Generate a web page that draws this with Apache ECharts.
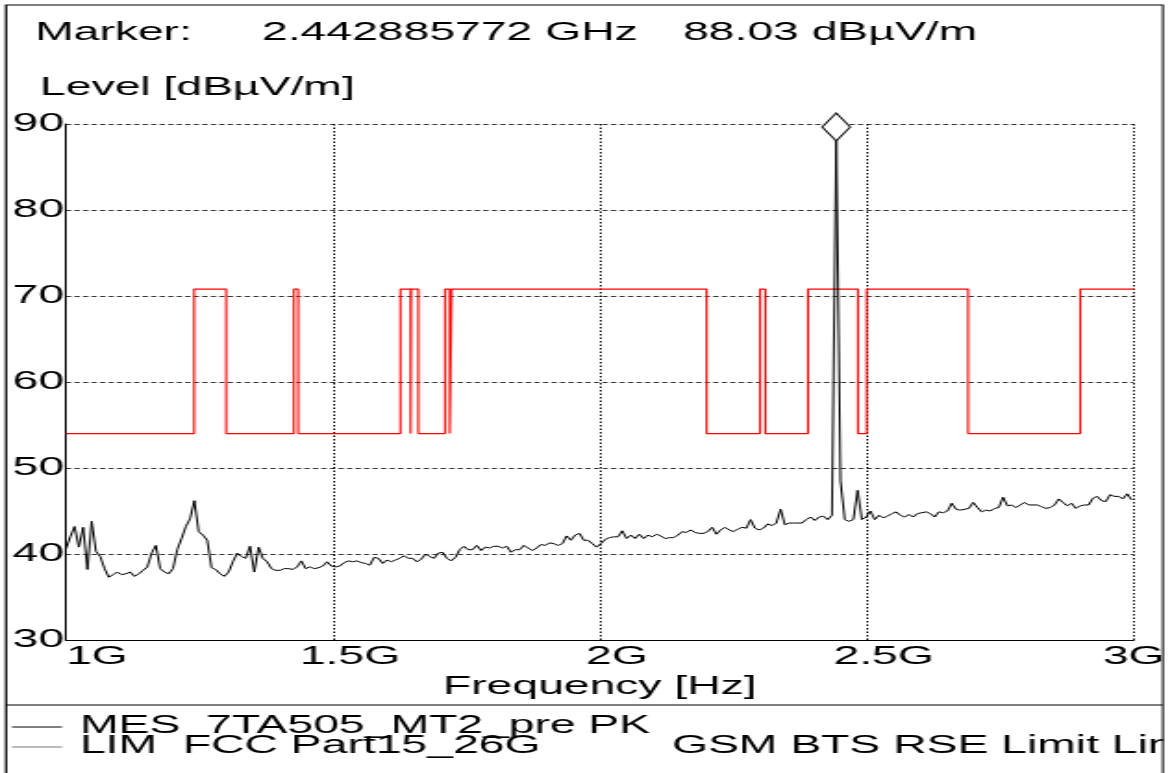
<!DOCTYPE html>
<html>
<head>
<meta charset="utf-8">
<script src="https://cdn.jsdelivr.net/npm/echarts@6/dist/echarts.min.js"></script>
<style>
html,body{margin:0;padding:0;background:#fff;overflow:hidden;}
#wrap{width:1170px;height:773px;overflow:hidden;position:relative;background:#fff;}
#chart{width:632px;height:773px;transform-origin:0 0;}
</style>
</head>
<body>
<div id="wrap"><div id="chart"></div></div>
<script>
// ---------------- data ----------------
// sweep grid of the trace (GHz): every 4th analyzer bin of a 999-point sweep
const START_GHZ = 1;
const STEP_GHZ = 0.008016032;
const levels = [
  40.6, 42.0, 43.2, 40.8, 43.1, 38.2, 43.8, 40.3, 39.7, 38.3,
  37.3, 37.6, 37.9, 37.6, 37.7, 37.9, 37.4, 37.7, 38.1, 38.5,
  40.1, 41.0, 38.3, 37.9, 37.7, 38.3, 40.5, 41.8, 43.2, 44.1,
  46.2, 42.6, 42.2, 41.6, 38.4, 38.2, 37.7, 37.4, 37.9, 39.1,
  40.1, 39.7, 39.5, 40.9, 37.9, 40.8, 39.5, 39.1, 38.3, 38.1,
  38.1, 38.3, 38.3, 38.2, 38.5, 39.2, 38.3, 38.5, 38.3, 38.4,
  38.6, 39.1, 38.6, 38.5, 38.6, 39.0, 39.2, 39.1, 39.2, 39.0,
  38.9, 38.7, 39.6, 39.5, 38.9, 39.3, 39.1, 39.3, 39.5, 39.8,
  39.5, 39.5, 39.1, 39.4, 40.0, 39.7, 39.5, 40.1, 40.2, 39.5,
  39.2, 39.6, 40.5, 40.9, 40.5, 40.5, 41.0, 40.4, 40.8, 40.7,
  40.9, 40.9, 40.7, 40.9, 40.2, 40.5, 40.5, 41.0, 40.7, 40.4,
  40.7, 41.1, 41.0, 41.3, 41.2, 41.0, 41.2, 42.1, 41.6, 42.2,
  42.4, 41.6, 41.6, 41.2, 40.8, 41.2, 41.7, 41.9, 42.0, 42.0,
  42.7, 41.8, 42.2, 41.8, 42.3, 41.8, 42.2, 42.0, 42.3, 42.1,
  41.8, 41.9, 41.9, 42.2, 42.6, 42.5, 42.8, 42.5, 42.4, 42.4,
  42.6, 43.1, 42.3, 42.8, 43.1, 42.8, 42.6, 42.9, 43.1, 43.0,
  44.0, 43.0, 42.8, 43.0, 43.5, 43.3, 43.6, 45.2, 43.4, 43.6,
  43.6, 43.6, 43.6, 44.0, 44.3, 43.9, 44.3, 44.4, 44.0, 44.5,
  88.03, 48.5, 44.0, 43.8, 44.0, 47.4, 44.0, 44.3, 45.0, 44.0,
  44.5, 44.2, 44.4, 44.7, 44.9, 44.5, 44.3, 44.6, 44.3, 44.7,
  44.8, 44.9, 44.7, 44.3, 44.9, 44.8, 45.0, 45.9, 45.2, 45.1,
  45.2, 45.3, 46.0, 45.4, 44.9, 45.1, 45.0, 45.3, 45.4, 46.6,
  45.6, 45.7, 45.4, 45.7, 46.0, 45.7, 45.7, 45.7, 45.5, 45.3,
  45.4, 45.7, 46.4, 46.0, 45.6, 45.9, 45.3, 45.6, 45.7, 45.7,
  46.5, 46.7, 46.2, 46.1, 46.9, 46.7, 46.7, 46.4, 47.0, 46.3
];
// limit line: band edges (GHz) and the level inside each band (dBµV/m)
const limitEdges = [1, 1.24, 1.3, 1.427, 1.435, 1.6265, 1.6455, 1.6465, 1.66, 1.71,
  1.7188, 1.7222, 2.2, 2.3, 2.31, 2.39, 2.4835, 2.5, 2.69, 2.9, 3];
const limitLevels = [54, 70.8, 54, 70.8, 54, 70.8, 54, 70.8, 54, 70.8,
  54, 70.8, 54, 70.8, 54, 70.8, 54, 70.8, 54, 70.8];
const MARKER_GHZ = 2.442885772;
const MARKER_DB = 88.03;
const xRange = [1, 3], xStep = 0.5;
const yRange = [30, 90], yStep = 10;
const headerLabel = 'Marker:';
const headerFreq = '2.442885772 GHz';
const headerLevel = '88.03 dBµV/m';
const yTitle = 'Level [dBµV/m]';
const xTitle = 'Frequency [Hz]';
const legendRow1 = 'MES  7TA505_MT2_pre PK';
const legendRow2a = 'LIM  FCC Part15_26G';
const legendRow2b = 'GSM BTS RSE Limit Lin';

// ---------------- layout ----------------
const REAL_W = 1170, NAT_W = 632;
const S = REAL_W / NAT_W;           // horizontal stretch of the whole picture
const X = r => r / S;                // real pixel -> drawing pixel
document.getElementById('chart').style.transform = 'scaleX(' + S + ')';
const FONT = '"Liberation Sans", Arial, sans-serif';
const FS = 25;

const traceData = levels.map((v, i) => [START_GHZ + i * STEP_GHZ, v]);
const limitData = [];
for (let k = 0; k < limitLevels.length; k++) {
  limitData.push([limitEdges[k], limitLevels[k]]);
  limitData.push([limitEdges[k + 1], limitLevels[k]]);
}

const chart = echarts.init(document.getElementById('chart'), null, {renderer: 'canvas'});
const txt = (x, y, t) => ({
  type: 'text', x: X(x), y: y, silent: true, z: 50,
  style: {text: t, fill: '#000', fontSize: FS, fontFamily: FONT, align: 'left', verticalAlign: 'middle'}
});
const labelStyle = {color: '#000', fontSize: FS, fontFamily: FONT};
chart.setOption({
  animation: false,
  backgroundColor: '#fff',
  grid: {left: X(66), right: NAT_W - X(1143), top: 124, bottom: 773 - 640, containLabel: false},
  xAxis: {
    type: 'value', min: xRange[0], max: xRange[1], interval: xStep,
    axisLine: {show: true, lineStyle: {color: '#000', width: 1}},
    axisTick: {show: false},
    axisLabel: {
      formatter: v => {
        const t = v + 'G';
        return (v === xRange[0] || v === xRange[1]) ? '{a|' + t + '}' : '{b|' + t + '}';
      },
      rich: {
        a: Object.assign({}, labelStyle),
        b: Object.assign({padding: [0, 0, 0, X(34)]}, labelStyle)
      },
      color: '#000', fontSize: FS, fontFamily: FONT, margin: 5,
      alignMinLabel: 'left', alignMaxLabel: 'center'
    },
    splitLine: {show: true, lineStyle: {color: '#000', width: 1, type: [1.5, 2]}},
    name: xTitle, nameLocation: 'middle', nameGap: 32,
    nameTextStyle: {color: '#000', fontSize: FS, fontFamily: FONT}
  },
  yAxis: {
    type: 'value', min: yRange[0], max: yRange[1], interval: yStep,
    axisLine: {show: true, lineStyle: {color: '#000', width: 1}},
    axisTick: {show: false},
    axisLabel: {color: '#000', fontSize: FS, fontFamily: FONT, margin: 1},
    splitLine: {show: true, lineStyle: {color: '#333', width: 1, type: [2.8, 1.8]}}
  },
  series: [
    {
      name: 'LIM', type: 'line', data: limitData, symbol: 'none', z: 2,
      lineStyle: {color: '#ff0000', width: 1.1}, silent: true
    },
    {
      name: 'MES', type: 'line', data: traceData, symbol: 'none', z: 3,
      lineStyle: {color: '#000', width: 1}, silent: true,
      markPoint: {
        symbol: 'diamond', symbolSize: [X(28), 28], symbolOffset: [0, -14],
        itemStyle: {color: '#fff', borderColor: '#000', borderWidth: 1.1},
        label: {show: false},
        data: [{coord: [MARKER_GHZ, MARKER_DB]}]
      }
    }
  ],
  graphic: [
    {type: 'rect', silent: true, z: 40, shape: {x: X(6), y: 5, width: X(1163) - X(6), height: 820},
      style: {fill: 'none', stroke: '#000', lineWidth: 1.2}},
    {type: 'line', silent: true, z: 40, shape: {x1: X(6), y1: 705, x2: X(1163), y2: 705},
      style: {stroke: '#000', lineWidth: 1.2}},
    txt(35, 33, headerLabel),
    txt(262, 33, headerFreq),
    txt(683, 33, headerLevel),
    txt(40, 88, yTitle),
    {type: 'line', silent: true, z: 50, shape: {x1: X(12), y1: 727, x2: X(62), y2: 727},
      style: {stroke: '#000', lineWidth: 1}},
    {type: 'line', silent: true, z: 50, shape: {x1: X(12), y1: 747, x2: X(62), y2: 747},
      style: {stroke: '#777', lineWidth: 1}},
    txt(80, 726, legendRow1),
    txt(80, 746, legendRow2a),
    txt(672, 746, legendRow2b),
    {type: 'rect', silent: true, z: 100, shape: {x: X(1164), y: 0, width: NAT_W - X(1164), height: 773},
      style: {fill: '#fff'}}
  ]
});
</script>
</body>
</html>
